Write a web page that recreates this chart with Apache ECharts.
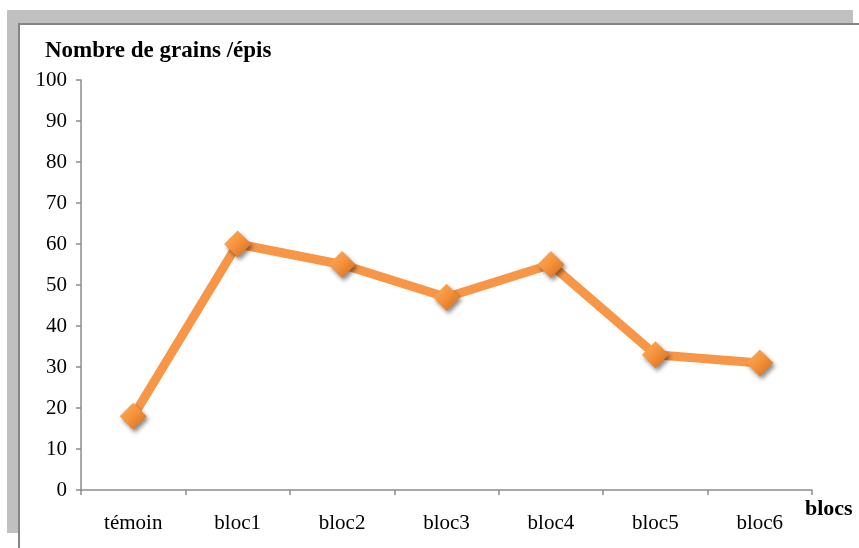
<!DOCTYPE html>
<html>
<head>
<meta charset="utf-8">
<script src="https://cdn.jsdelivr.net/npm/echarts@6/dist/echarts.min.js"></script>
<style>
html,body{margin:0;padding:0;background:#fff;}
#wrap{position:relative;width:859px;height:548px;overflow:hidden;background:#fff;}
#bandTop{position:absolute;left:7px;top:10px;width:846px;height:13px;background:#c0c0c0;}
#bandLeft{position:absolute;left:7px;top:10px;width:11px;height:523px;background:#c0c0c0;}
#lineTop{position:absolute;left:18px;top:23px;width:841px;height:2px;background:#858585;}
#lineLeft{position:absolute;left:18px;top:23px;width:2px;height:525px;background:#858585;}
#chart{position:absolute;left:0;top:0;width:859px;height:548px;}
</style>
</head>
<body>
<div id="wrap">
<div id="bandTop"></div><div id="bandLeft"></div><div id="lineTop"></div><div id="lineLeft"></div>
<div id="chart"></div>
</div>
<script>
const categories = ['témoin','bloc1','bloc2','bloc3','bloc4','bloc5','bloc6'];
const values = [18, 60, 55, 47, 55, 33, 31];
const yTitle = 'Nombre de grains /épis';
const xTitle = 'blocs';

const chart = echarts.init(document.getElementById('chart'), null, {renderer:'canvas'});
const font = '"Liberation Serif", "Times New Roman", serif';
chart.setOption({
  animation:false,
  backgroundColor:'transparent',
  title:{text:yTitle,left:45,top:40,padding:0,textStyle:{fontFamily:font,fontSize:23,fontWeight:'bold',color:'#000'}},
  graphic:[{type:'text',left:805,top:498,style:{text:xTitle,font:'bold 22px "Liberation Serif", serif',fill:'#000'}}],
  grid:{left:81,top:80,right:47,bottom:58},
  xAxis:{type:'category',data:categories,boundaryGap:true,
    axisLine:{lineStyle:{color:'#8c8c8c',width:1.5}},
    axisTick:{show:true,length:5,lineStyle:{color:'#8c8c8c',width:1.5}},
    axisLabel:{margin:23,color:'#000',fontFamily:font,fontSize:21}},
  yAxis:{type:'value',min:0,max:100,interval:10,
    axisLine:{show:true,lineStyle:{color:'#8c8c8c',width:1.5}},
    axisTick:{show:true,length:5,lineStyle:{color:'#8c8c8c',width:1.5}},
    splitLine:{show:false},
    axisLabel:{margin:14,color:'#000',fontFamily:font,fontSize:21}},
  series:[{type:'line',data:values,
    lineStyle:{color:'#F79646',width:9},
    symbol:'diamond',symbolSize:27,
    itemStyle:{color:new echarts.graphic.LinearGradient(0,0,1,1,[{offset:0,color:'#FDB060'},{offset:0.5,color:'#F4913A'},{offset:1,color:'#D0691C'}]),
      shadowColor:'rgba(0,0,0,0.45)',shadowBlur:4,shadowOffsetX:2,shadowOffsetY:3},
    z:3}]
});
</script>
</body>
</html>
